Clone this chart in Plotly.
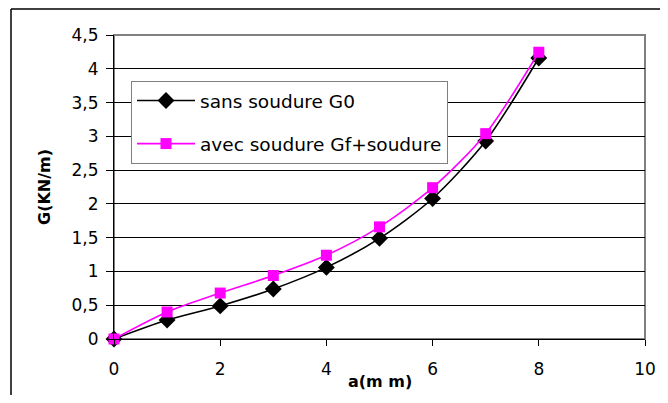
import plotly.graph_objects as go

a_mm = [0, 1, 2, 3, 4, 5, 6, 7, 8]
g_sans = [0, 0.28, 0.49, 0.74, 1.06, 1.49, 2.08, 2.93, 4.16]
g_avec = [0, 0.40, 0.68, 0.94, 1.24, 1.66, 2.24, 3.04, 4.245]
name_sans = "sans soudure G0"
name_avec = "avec soudure Gf+soudure"

# page body has an 8px margin; compensate so the final picture lines up
OFF = 8
W, H = 668 - 2 * OFF, 403 - 2 * OFF
L, T = 114 - OFF, 35 - OFF
pw, ph = 531, 304
R, B = W - L - pw, H - T - ph

fig = go.Figure()
fig.add_trace(go.Scatter(
    x=a_mm, y=g_sans, name=name_sans, mode="lines+markers", legendgroup="g1",
    cliponaxis=False,
    line=dict(color="#000000", width=1.6, shape="spline", smoothing=0.8),
    marker=dict(symbol="diamond", size=13, color="#000000")))
fig.add_trace(go.Scatter(
    x=a_mm, y=g_avec, name=name_avec, mode="lines+markers", legendgroup="g2",
    cliponaxis=False,
    line=dict(color="#FF00FF", width=1.6, shape="spline", smoothing=0.8),
    marker=dict(symbol="square", size=11, color="#FF00FF")))

tickfont = dict(family="DejaVu Sans, Arial", size=17, color="#000000")

fig.update_layout(
    width=W, height=H,
    margin=dict(l=L, r=R, t=T, b=B, autoexpand=False),
    paper_bgcolor="white", plot_bgcolor="white",
    separators=",.",
    showlegend=True,
    legend=dict(
        x=(131 - 114) / pw, y=(339 - 81) / ph, xanchor="left", yanchor="top",
        bgcolor="white", bordercolor="#808080", borderwidth=1,
        font=dict(family="DejaVu Sans, Arial", size=18.5, color="#000000"),
        tracegroupgap=16, itemwidth=58,
    ),
    xaxis=dict(
        range=[0, 10], dtick=2, tick0=0, showgrid=False, zeroline=False,
        showline=True, linecolor="#000000", linewidth=1, automargin=False,
        ticks="outside", ticklen=6, tickcolor="#000000",
        tickfont=tickfont, ticklabelstandoff=9,
    ),
    yaxis=dict(
        range=[0, 4.5], dtick=0.5, tick0=0, showgrid=True, gridcolor="#000000",
        gridwidth=1, zeroline=False, automargin=False,
        showline=True, linecolor="#000000", linewidth=1,
        ticks="outside", ticklen=7, tickcolor="#000000",
        tickfont=tickfont, ticklabelstandoff=4,
    ),
    shapes=[
        dict(type="rect", xref="x domain", yref="y domain", x0=0, x1=1, y0=0, y1=1,
             line=dict(color="#808080", width=2), layer="below"),
        dict(type="line", xref="paper", yref="paper",
             x0=(11 - 114) / pw, x1=(11 - 114) / pw,
             y0=(339 - 420) / ph, y1=(339 - 9) / ph,
             line=dict(color="#000000", width=1.5), layer="below"),
        dict(type="line", xref="paper", yref="paper",
             x0=(11 - 114) / pw, x1=(700 - 114) / pw,
             y0=(339 - 9) / ph, y1=(339 - 9) / ph,
             line=dict(color="#000000", width=1.5), layer="below"),
    ],
    annotations=[
        dict(text="<b>a(m m)</b>", xref="paper", yref="paper",
             x=(380 - 114) / pw, y=(339 - 381) / ph, xanchor="center", yanchor="middle",
             showarrow=False, font=dict(family="DejaVu Sans, Arial", size=16, color="#000000")),
        dict(text="<b>G(KN/m)</b>", xref="paper", yref="paper", textangle=-90,
             x=(44 - 114) / pw, y=(339 - 187) / ph, xanchor="center", yanchor="middle",
             showarrow=False, font=dict(family="DejaVu Sans, Arial", size=16, color="#000000")),
    ],
)

fig.write_html("out.html")
